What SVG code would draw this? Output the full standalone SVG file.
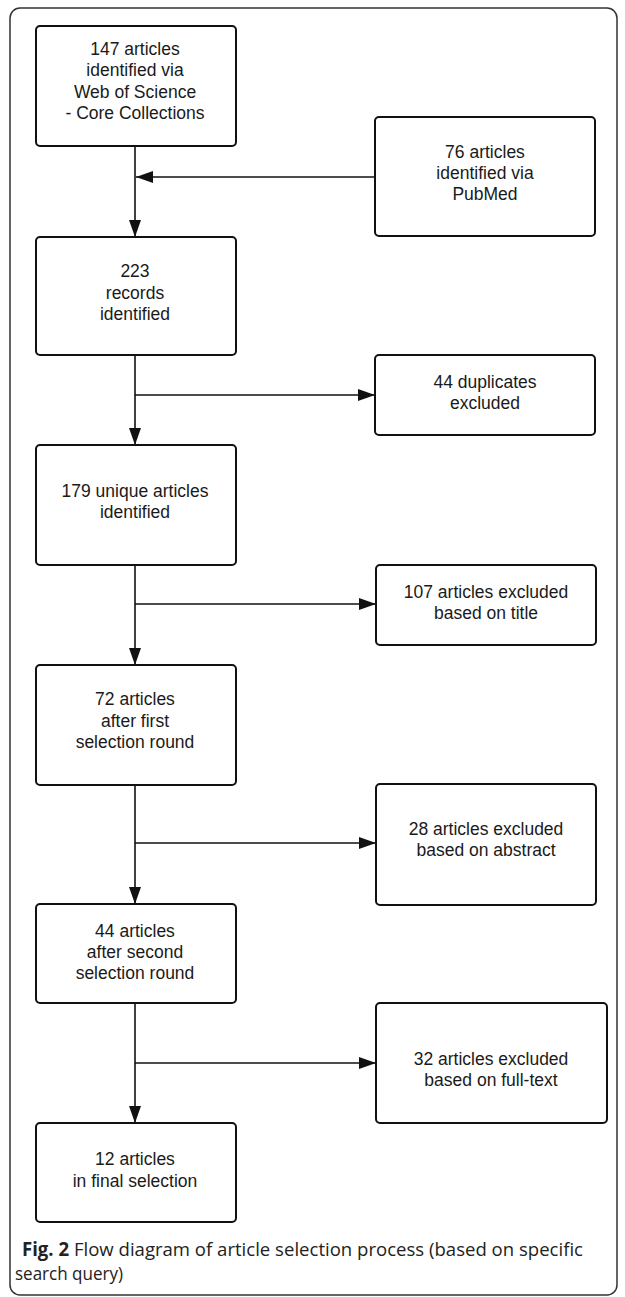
<svg xmlns="http://www.w3.org/2000/svg" width="625" height="1297" viewBox="0 0 625 1297">
<style>
.box{fill:#fff;stroke:#111;stroke-width:2}
.t{font-family:"Liberation Sans",Arial,sans-serif;font-size:17.5px;fill:#1a1a1a;text-anchor:middle}
.ln{stroke:#111;stroke-width:1.6;fill:none}
.cap{font-family:"Open Sans","Noto Sans",sans-serif;font-size:19px;fill:#222}
</style>
<defs>
<marker id="ah" viewBox="0 0 17 12" refX="17" refY="6" markerWidth="17" markerHeight="12" markerUnits="userSpaceOnUse" orient="auto">
<path d="M0,0 L17,6 L0,12 Z" fill="#111"/>
</marker>
</defs>
<rect x="10" y="8" width="607" height="1287" rx="10" fill="#fff" stroke="#333" stroke-width="1.5"/>
<g id="connectors">
<path class="ln" d="M135,146 V237" marker-end="url(#ah)"/>
<path class="ln" d="M375,177 H136" marker-end="url(#ah)"/>
<path class="ln" d="M135,355 V445" marker-end="url(#ah)"/>
<path class="ln" d="M135,395 H375" marker-end="url(#ah)"/>
<path class="ln" d="M135,565 V665" marker-end="url(#ah)"/>
<path class="ln" d="M135,604 H376" marker-end="url(#ah)"/>
<path class="ln" d="M135,785 V904" marker-end="url(#ah)"/>
<path class="ln" d="M135,843 H376" marker-end="url(#ah)"/>
<path class="ln" d="M135,1003 V1123" marker-end="url(#ah)"/>
<path class="ln" d="M135,1063 H376" marker-end="url(#ah)"/>
</g>
<g id="n1"><rect class="box" x="36" y="26" width="200" height="120" rx="4"/>
<text class="t" x="135" y="55">147 articles</text><text class="t" x="135" y="76">identified via</text><text class="t" x="135" y="98">Web of Science</text><text class="t" x="135" y="119">- Core Collections</text></g>
<g id="n2"><rect class="box" x="375" y="117" width="220" height="119" rx="4"/>
<text class="t" x="485" y="158">76 articles</text><text class="t" x="485" y="179">identified via</text><text class="t" x="485" y="200">PubMed</text></g>
<g id="n3"><rect class="box" x="36" y="237" width="200" height="118" rx="4"/>
<text class="t" x="135" y="277">223</text><text class="t" x="135" y="299">records</text><text class="t" x="135" y="320">identified</text></g>
<g id="n4"><rect class="box" x="375" y="355" width="220" height="80" rx="4"/>
<text class="t" x="485" y="388">44 duplicates</text><text class="t" x="485" y="409">excluded</text></g>
<g id="n5"><rect class="box" x="36" y="445" width="200" height="120" rx="4"/>
<text class="t" x="135" y="497">179 unique articles</text><text class="t" x="135" y="518">identified</text></g>
<g id="n6"><rect class="box" x="376" y="565" width="220" height="80" rx="4"/>
<text class="t" x="486" y="598">107 articles excluded</text><text class="t" x="486" y="619">based on title</text></g>
<g id="n7"><rect class="box" x="36" y="665" width="200" height="120" rx="4"/>
<text class="t" x="135" y="705">72 articles</text><text class="t" x="135" y="727">after first</text><text class="t" x="135" y="748">selection round</text></g>
<g id="n8"><rect class="box" x="376" y="784" width="220" height="121" rx="4"/>
<text class="t" x="486" y="835">28 articles excluded</text><text class="t" x="486" y="856">based on abstract</text></g>
<g id="n9"><rect class="box" x="36" y="904" width="200" height="99" rx="4"/>
<text class="t" x="135" y="937">44 articles</text><text class="t" x="135" y="958">after second</text><text class="t" x="135" y="979">selection round</text></g>
<g id="n10"><rect class="box" x="376" y="1003" width="231" height="120" rx="4"/>
<text class="t" x="491" y="1065">32 articles excluded</text><text class="t" x="491" y="1086">based on full-text</text></g>
<g id="n11"><rect class="box" x="36" y="1123" width="200" height="99" rx="4"/>
<text class="t" x="135" y="1165">12 articles</text><text class="t" x="135" y="1187">in final selection</text></g>
<g id="caption">
<text class="cap" x="22" y="1256" textLength="561" lengthAdjust="spacingAndGlyphs"><tspan font-weight="bold">Fig. 2</tspan> Flow diagram of article selection process (based on specific</text>
<text class="cap" x="15" y="1280" textLength="108" lengthAdjust="spacingAndGlyphs">search query)</text>
</g>
</svg>
